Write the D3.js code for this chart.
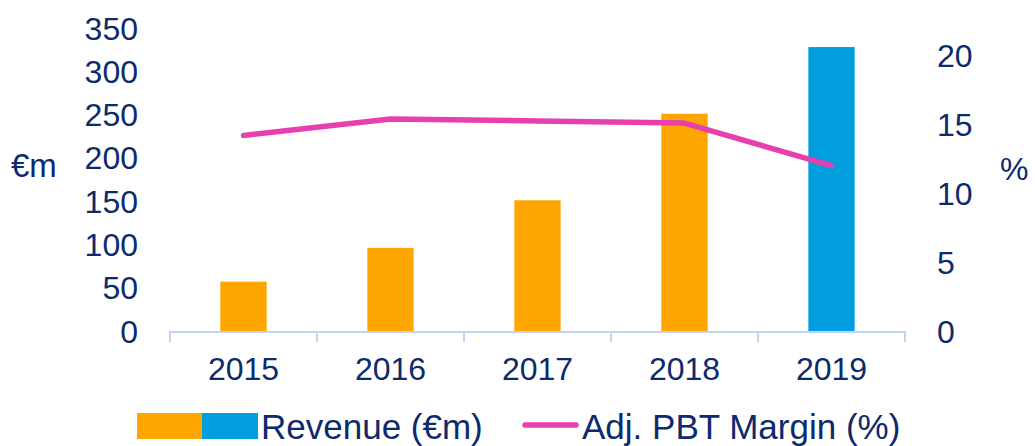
<!DOCTYPE html>
<html>
<head>
<meta charset="utf-8">
<script src="https://cdn.jsdelivr.net/npm/d3@7"></script>
<style>
  body { margin: 0; background: #fff; }
  text { font-family: "Liberation Sans", Arial, sans-serif; fill: #0c2a6c; }
</style>
</head>
<body>
<div id="chart"></div>
<script>
var years = ["2015", "2016", "2017", "2018", "2019"];
var revenue = [57, 96, 151, 251, 328];
var margin = [14.2, 15.4, 15.25, 15.1, 12.0];
var barColors = ["#ffa500", "#ffa500", "#ffa500", "#ffa500", "#009ede"];
var leftTicks = [0, 50, 100, 150, 200, 250, 300, 350];
var rightTicks = [0, 5, 10, 15, 20];

var w = 1035, h = 446;
var svg = d3.select("#chart").append("svg").attr("width", w).attr("height", h);

var x = d3.scaleBand().domain(years).range([170, 905]).padding(0);
var yL = d3.scaleLinear().domain([0, 350]).range([331, 28]);
var yR = d3.scaleLinear().domain([0, 22]).range([331, 28]);
var barW = x.bandwidth() * 0.315;

// bars
svg.append("g").selectAll("rect").data(years).enter().append("rect")
  .attr("x", function(d) { return x(d) + x.bandwidth() / 2 - barW / 2; })
  .attr("y", function(d, i) { return yL(revenue[i]); })
  .attr("width", barW)
  .attr("height", function(d, i) { return yL(0) - yL(revenue[i]); })
  .attr("fill", function(d, i) { return barColors[i]; });

// x axis line + ticks
var axisCol = "#c3d3f5";
svg.append("line").attr("x1", 170).attr("x2", 905).attr("y1", yL(0) + 1).attr("y2", yL(0) + 1)
  .attr("stroke", axisCol).attr("stroke-width", 2);
var bounds = years.map(function(d) { return x(d); }).concat([x.range()[1]]);
svg.append("g").selectAll("line").data(bounds).enter().append("line")
  .attr("x1", function(d) { return d; }).attr("x2", function(d) { return d; })
  .attr("y1", yL(0)).attr("y2", yL(0) + 11)
  .attr("stroke", axisCol).attr("stroke-width", 2);

// x labels
svg.append("g").selectAll("text").data(years).enter().append("text")
  .attr("x", function(d) { return x(d) + x.bandwidth() / 2; })
  .attr("y", 380)
  .attr("text-anchor", "middle")
  .style("font-size", "32px")
  .text(function(d) { return d; });

// line
var line = d3.line()
  .x(function(d, i) { return x(years[i]) + x.bandwidth() / 2; })
  .y(function(d) { return yR(d); });
svg.append("path").datum(margin)
  .attr("d", line)
  .attr("fill", "none")
  .attr("stroke", "#e83fae")
  .attr("stroke-width", 5.5)
  .attr("stroke-linecap", "round")
  .attr("stroke-linejoin", "round");

// left axis labels
svg.append("g").selectAll("text").data(leftTicks).enter().append("text")
  .attr("x", 138)
  .attr("y", function(d) { return yL(d); })
  .attr("dy", "0.36em")
  .attr("text-anchor", "end")
  .style("font-size", "32px")
  .text(function(d) { return d; });

// right axis labels
svg.append("g").selectAll("text").data(rightTicks).enter().append("text")
  .attr("x", 937)
  .attr("y", function(d) { return yR(d); })
  .attr("dy", "0.36em")
  .attr("text-anchor", "start")
  .style("font-size", "32px")
  .text(function(d) { return d; });

// axis titles
svg.append("text").attr("x", 11).attr("y", 165).attr("dy", "0.36em")
  .style("font-size", "33px").text("€m");
svg.append("text").attr("x", 1000).attr("y", 168).attr("dy", "0.36em")
  .style("font-size", "32px").text("%");

// legend
var lg = svg.append("g");
lg.append("rect").attr("x", 137).attr("y", 413).attr("width", 65).attr("height", 26).attr("fill", "#ffa500");
lg.append("rect").attr("x", 202).attr("y", 413).attr("width", 56).attr("height", 26).attr("fill", "#009ede");
lg.append("text").attr("x", 261).attr("y", 439).style("font-size", "35px").text("Revenue (€m)");
lg.append("line").attr("x1", 525).attr("x2", 576).attr("y1", 425).attr("y2", 425)
  .attr("stroke", "#e83fae").attr("stroke-width", 5.5).attr("stroke-linecap", "round");
lg.append("text").attr("x", 582).attr("y", 439).style("font-size", "35px").text("Adj. PBT Margin (%)");
</script>
</body>
</html>
